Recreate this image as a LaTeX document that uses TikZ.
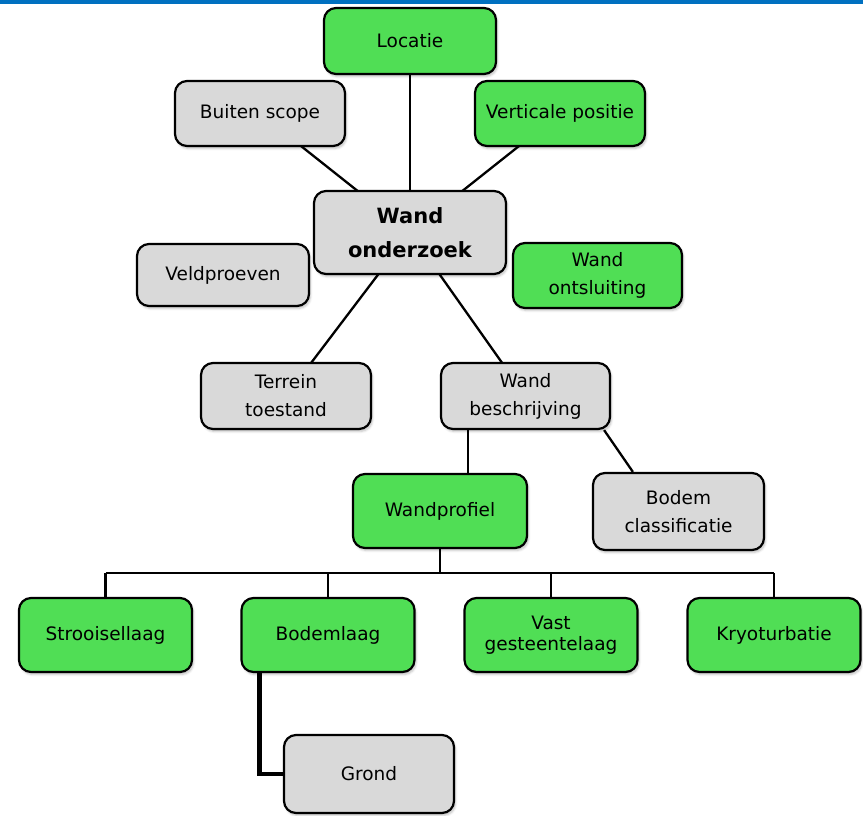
\documentclass[tikz,border=0pt]{standalone}
\usepackage{fontspec}
\setmainfont{DejaVu Sans}
\usetikzlibrary{calc,backgrounds,shadows.blur}
\definecolor{boxgreen}{RGB}{80,222,85}
\definecolor{boxgray}{RGB}{217,217,217}
\definecolor{topblue}{RGB}{0,112,192}
\begin{document}
\begin{tikzpicture}[x=1pt,y=-1pt,
  box/.style={draw=black, line width=2.2pt, rounded corners=12pt, inner sep=0pt,
    align=center, font=\fontsize{18.5}{28}\selectfont,
    blur shadow={shadow xshift=1.5pt, shadow yshift=-2.5pt, shadow blur steps=4, shadow opacity=25}},
  grn/.style={box, fill=boxgreen},
  gry/.style={box, fill=boxgray},
  sz/.style 2 args={minimum width=#1pt, minimum height=#2pt},
  link/.style={draw=black, line width=2.3pt},
  thicklink/.style={draw=black, line width=4.5pt}]
\useasboundingbox (0,0) rectangle (863,815);
\fill[topblue] (0,0) rectangle (863,4);

% upper cluster
\node[grn, sz={172}{66}] (loc) at (410,41) {Locatie};
\node[gry, sz={170}{65}] (bs) at (260,113.5) {Buiten scope};
\node[grn, sz={170}{65}] (vp) at (560,113.5) {Verticale positie};
\node[gry, sz={192}{83}, font=\bfseries\fontsize{21}{34}\selectfont] (wo) at (410,232.5) {Wand\\onderzoek};
\node[gry, sz={172}{62}] (vel) at (223,275) {Veldproeven};
\node[grn, sz={169}{65}] (wos) at (597.5,275.5) {Wand\\ontsluiting};
\node[gry, sz={170}{66}] (tt) at (286,396) {Terrein\\toestand};
\node[gry, sz={169}{66}] (wb) at (525.5,396) {Wand\\beschrijving};

% profile and its layers
\node[grn, sz={174}{74}] (wp) at (440,511) {Wandprofiel};
\node[gry, sz={171}{77}] (bc) at (678.5,511.5) {Bodem\\classificatie};
\node[grn, sz={173}{74}] (s1) at (105.5,635) {Strooisellaag};
\node[grn, sz={173}{74}] (s2) at (328,635) {Bodemlaag};
\node[grn, sz={173}{74}, font=\fontsize{18.5}{21}\selectfont] (s3) at (551,635) {Vast\\gesteentelaag};
\node[grn, sz={173}{74}] (s4) at (774,635) {Kryoturbatie};
\node[gry, sz={170}{78}] (gr) at (369,774) {Grond};

\begin{pgfonlayer}{background}
  % spokes of the central node
  \draw[link] (loc.center) -- (wo.center);
  \draw[link] (bs.center) -- (wo.center);
  \draw[link] (vp.center) -- (wo.center);
  \draw[link] (tt.center) -- (wo.center);
  \draw[link] (wb.center) -- (wo.center);
  % description branch
  \coordinate (wbl) at ($(wb.south west)+(28,0)$);
  \draw[link] (wbl) -- (wbl |- wp.north);
  \draw[link] ($(wb.south east)+(-7,0)$) -- ($(bc.north west)+(41,0)$);
  % layer bus
  \coordinate (bus) at ($(wp.south)+(0,24)$);
  \draw[link] (wp.south) -- (bus);
  \draw[link] (s1.north |- bus) -- (s4.north |- bus);
  \foreach \n in {s1,s2,s3,s4} \draw[link] (\n.north) -- (\n.north |- bus);
  % soil layer to ground
  \coordinate (blc) at ($(s2.south west)+(19,0)$);
  \draw[thicklink] (blc) -- (blc |- gr.west) -- (gr.west);
\end{pgfonlayer}
\end{tikzpicture}
\end{document}
